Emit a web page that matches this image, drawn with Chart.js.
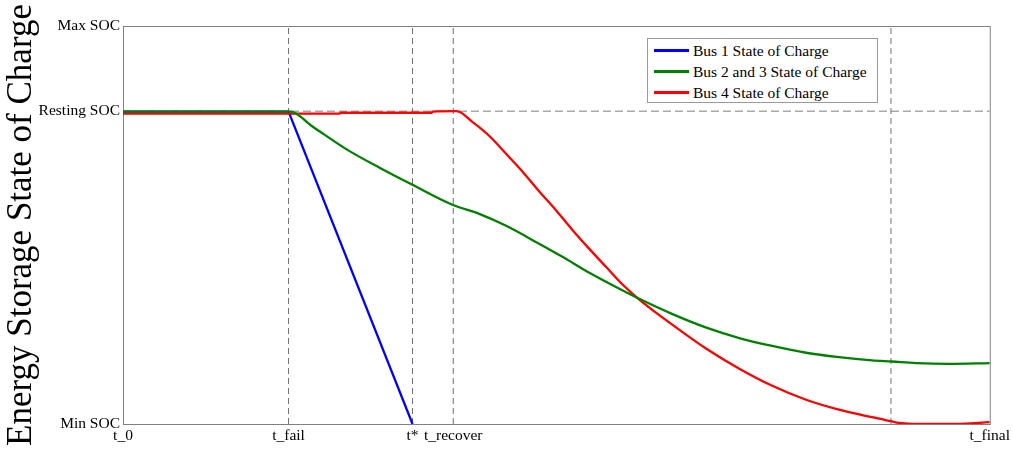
<!DOCTYPE html>
<html>
<head>
<meta charset="utf-8">
<script src="https://cdn.jsdelivr.net/npm/chart.js@4.4.1/dist/chart.umd.min.js"></script>
<style>
  html, body { margin: 0; padding: 0; background: #fff; }
  .chart-shell { position: relative; width: 1013px; height: 453px; }
  .chart-legend {
    position: absolute; left: 647px; top: 38px; width: 229px; height: 62px;
    border: 1px solid #9a9a9a; background: #fff; padding-top: 1px; box-sizing: content-box;
    font-family: 'Liberation Serif', 'Times New Roman', serif; font-size: 15.5px; color: #000;
  }
  .legend-row { display: flex; align-items: center; height: 21px; }
  .legend-swatch { width: 35px; height: 2.5px; margin: 0 4px 0 6px; }
</style>
</head>
<body>
<div class="chart-shell">
  <canvas id="socChart"></canvas>
  <div class="chart-legend" id="socLegend"></div>
</div>
<script>
// axis ticks (time in % of run, SOC in % of range)
const timeTicks = [0, 19.1, 33.4, 38.1, 100];
const timeLabels = ['t_0', 't_fail', 't*', 't_recover', 't_final'];
const socTicks = [0, 78.6, 100];
const socLabels = ['Min SOC', 'Resting SOC', 'Max SOC'];
const markerTimes = [19.1, 33.4, 38.1, 88.6];
const restingSoc = 78.6;

// Bus 1
const bus1Time = [0, 19.1, 33.4];
const bus1Soc = [78.5, 78.5, 0];

// Bus 2 and 3
const bus23Time = [0, 19.3, 21.9, 25.8, 29.6, 33.4, 38.0, 41.1, 44.2, 48.0, 50.7, 53.8, 57.6, 59.8, 63.4, 67.3, 71.1, 74.9, 78.8, 82.6, 86.4, 88.7, 91.5, 95.3, 100];
const bus23Soc = [78.5, 78.5, 74.7, 69.0, 64.4, 60.1, 55.1, 52.8, 49.8, 45.3, 42.0, 38.0, 33.6, 31.2, 27.6, 24.2, 21.6, 19.6, 17.9, 16.8, 16.0, 15.7, 15.3, 15.1, 15.3];

// Bus 4
const bus4Time = [0, 19.1, 25.0, 25.1, 35.6, 35.7, 38.5, 40.3, 42.3, 44.2, 46.1, 48.0, 50.0, 51.8, 53.8, 55.8, 57.6, 59.6, 63.4, 67.3, 71.1, 74.9, 78.8, 82.6, 86.4, 88.6, 89.5, 93.0, 96.1, 100];
const bus4Soc = [78.0, 78.0, 78.0, 78.2, 78.2, 78.5, 78.6, 75.9, 72.3, 67.9, 63.4, 58.5, 53.6, 48.9, 44.0, 39.3, 35.1, 31.2, 24.9, 18.9, 13.9, 9.6, 6.1, 3.6, 1.7, 0.7, 0.3, 0, 0, 0.45];

const serif = "'Liberation Serif', 'Times New Roman', serif";
const axisGray = '#808080';

function points(xs, ys) {
  return xs.map((x, i) => ({ x, y: ys[i] }));
}

const series = [
  { label: 'Bus 1 State of Charge', color: '#0000ff', data: points(bus1Time, bus1Soc), order: 3, smooth: false },
  { label: 'Bus 2 and 3 State of Charge', color: '#008000', data: points(bus23Time, bus23Soc), order: 1, smooth: true },
  { label: 'Bus 4 State of Charge', color: '#ff0000', data: points(bus4Time, bus4Soc), order: 2, smooth: true }
];

const datasets = series.map((s) => ({
  label: s.label,
  data: s.data,
  borderColor: s.color,
  borderWidth: 2.3,
  pointRadius: 0,
  cubicInterpolationMode: s.smooth ? 'monotone' : 'default',
  tension: 0,
  order: s.order
}));

// dashed reference lines
markerTimes.forEach((t) => {
  datasets.push({
    label: 'marker',
    data: [{ x: t, y: 0 }, { x: t, y: 100 }],
    borderColor: '#707070',
    borderWidth: 1,
    borderDash: [6, 4],
    pointRadius: 0,
    order: 10
  });
});
datasets.push({
  label: 'resting',
  data: [{ x: 0, y: restingSoc }, { x: 100, y: restingSoc }],
  borderColor: '#a8a8a8',
  borderWidth: 1.5,
  borderDash: [8, 4],
  pointRadius: 0,
  order: 11
});

const frame = {
  id: 'frame',
  beforeDatasetsDraw(chart) {
    const { ctx, chartArea: a } = chart;
    ctx.save();
    ctx.strokeStyle = axisGray;
    ctx.lineWidth = 1;
    ctx.strokeRect(a.left + 0.5, a.top + 0.5, a.right - a.left, a.bottom - a.top);
    ctx.restore();
  }
};

const chart = new Chart(document.getElementById('socChart'), {
  type: 'line',
  data: { datasets },
  options: {
    responsive: true,
    maintainAspectRatio: false,
    animation: false,
    events: [],
    layout: { padding: { top: 26, right: 22, left: 0, bottom: 0 } },
    plugins: { legend: { display: false }, tooltip: { enabled: false } },
    scales: {
      x: {
        type: 'linear',
        min: 0,
        max: 100,
        afterBuildTicks(scale) { scale.ticks = timeTicks.map((v) => ({ value: v })); },
        afterFit(scale) { scale.height = 29; },
        grid: { display: false, drawTicks: false },
        border: { color: axisGray },
        ticks: {
          autoSkip: false,
          maxRotation: 0,
          padding: 3,
          color: '#000',
          font: { family: serif, size: 15.5 },
          callback: (value, index) => timeLabels[index]
        }
      },
      y: {
        type: 'linear',
        min: 0,
        max: 100,
        afterBuildTicks(scale) { scale.ticks = socTicks.map((v) => ({ value: v })); },
        afterFit(scale) { scale.width = 123; },
        grid: { display: false, drawTicks: false },
        border: { color: axisGray },
        title: {
          display: true,
          text: 'Energy Storage State of Charge',
          color: '#000',
          padding: 0,
          font: { family: serif, size: 35, lineHeight: 1.25 }
        },
        ticks: {
          autoSkip: false,
          padding: 3,
          color: '#000',
          font: { family: serif, size: 15.5 },
          callback: (value, index) => socLabels[index]
        }
      }
    }
  },
  plugins: [frame]
});

// legend box from the data series
const legend = document.getElementById('socLegend');
series.forEach((s) => {
  const row = document.createElement('div');
  row.className = 'legend-row';
  const sw = document.createElement('span');
  sw.className = 'legend-swatch';
  sw.style.background = s.color;
  const txt = document.createElement('span');
  txt.textContent = s.label;
  row.append(sw, txt);
  legend.appendChild(row);
});
</script>
</body>
</html>
